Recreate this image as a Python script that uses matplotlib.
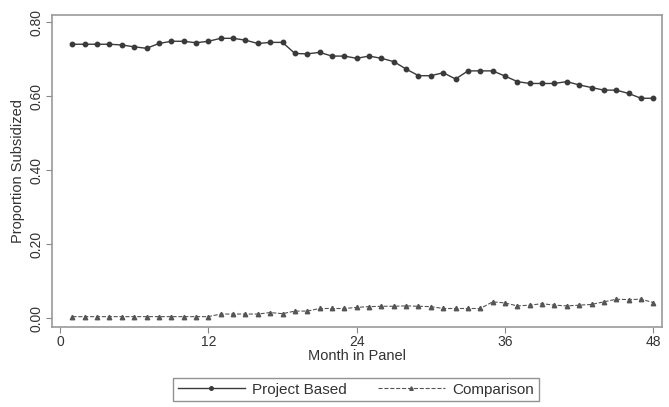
import numpy as np
import matplotlib.pyplot as plt

plt.rcParams['font.family'] = ['Liberation Sans', 'DejaVu Sans']

months = np.arange(1, 49)
project_based = [0.740, 0.740, 0.740, 0.740, 0.738, 0.733, 0.729, 0.742, 0.748, 0.748,
                 0.744, 0.748, 0.756, 0.756, 0.751, 0.742, 0.745, 0.745, 0.715, 0.714,
                 0.718, 0.708, 0.708, 0.702, 0.708, 0.702, 0.693, 0.673, 0.655, 0.655,
                 0.663, 0.646, 0.668, 0.668, 0.668, 0.654, 0.639, 0.634, 0.634, 0.634,
                 0.639, 0.630, 0.623, 0.616, 0.616, 0.607, 0.594, 0.594]
comparison = [0.004] * 12 + [0.011, 0.011, 0.011, 0.011, 0.015, 0.012, 0.019, 0.019,
              0.026, 0.026, 0.026, 0.029, 0.031, 0.032, 0.032, 0.033, 0.032, 0.031,
              0.026, 0.026, 0.026, 0.026, 0.044, 0.041, 0.033, 0.035, 0.039, 0.035,
              0.033, 0.035, 0.037, 0.044, 0.051, 0.050, 0.051, 0.042]
xticks = [0, 12, 24, 36, 48]
yticks = [0.0, 0.2, 0.4, 0.6, 0.8]

fig = plt.figure(figsize=(6.69, 4.07), dpi=100)
ax = fig.add_axes([52 / 669, 1 - 327 / 407, 610 / 669, 312 / 407])

ax.plot(months, project_based, '-', color='#3a3a3a', lw=1.0, marker='o', ms=3.2,
        label='Project Based')
ax.plot(months, comparison, '--', color='#555555', lw=0.8, marker='^', ms=3.2,
        label='Comparison')

ax.set_xlim(-0.65, 48.7)
ax.set_ylim(-0.024, 0.819)
ax.set_xticks(xticks)
ax.set_yticks(yticks)
ax.set_yticklabels(['%.2f' % v for v in yticks], rotation=90, va='center')
ax.tick_params(direction='out', length=4, width=0.8, colors='#888888',
               labelcolor='#333333', labelsize=10, pad=2)
for s in ax.spines.values():
    s.set_color('#999999')
    s.set_linewidth(1.2)

ax.set_xlabel('Month in Panel', fontsize=10.5, color='#333333', labelpad=0)
ax.set_ylabel('Proportion Subsidized', fontsize=10.5, color='#333333', labelpad=3)

leg = fig.legend(loc='upper left', bbox_to_anchor=(173 / 669, 1 - 378 / 407), ncol=2,
                 fontsize=11, frameon=True, fancybox=False, handlelength=4.4,
                 handletextpad=0.5, columnspacing=2.0, borderpad=0.3,
                 borderaxespad=0, markerscale=0.8)
leg.get_frame().set_edgecolor('#777777')
leg.get_frame().set_linewidth(1.0)
for t in leg.get_texts():
    t.set_color('#333333')

fig.savefig('out.png', dpi=100)
